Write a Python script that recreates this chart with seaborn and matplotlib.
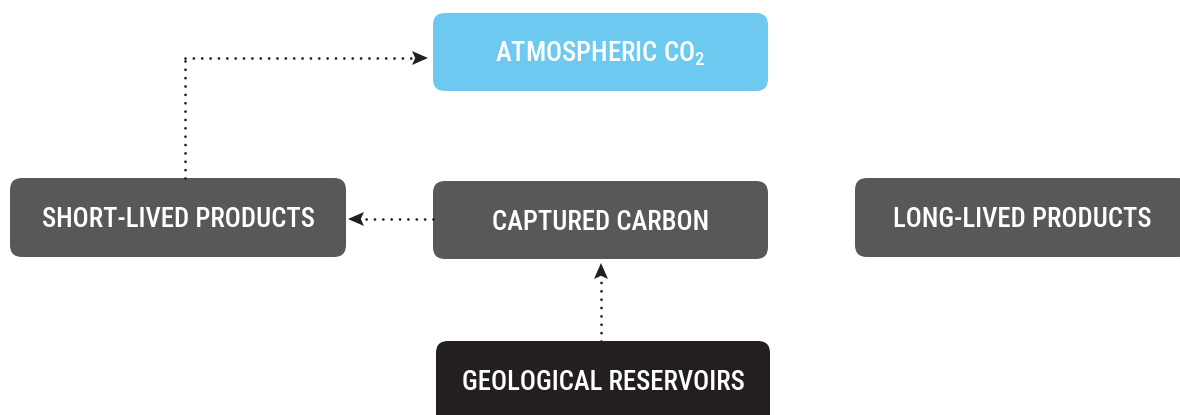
import numpy as np
import matplotlib
matplotlib.use("Agg")
import matplotlib.pyplot as plt
from matplotlib import font_manager
from matplotlib.patches import FancyBboxPatch, Polygon
import seaborn as sns

# boxes of the carbon flow diagram (pixel layout, y down)
labels = ["ATMOSPHERIC CO$_2$", "SHORT-LIVED PRODUCTS", "CAPTURED CARBON",
          "LONG-LIVED PRODUCTS", "GEOLOGICAL RESERVOIRS"]
box_x = [433, 10, 433, 855, 436]
box_y = [13, 178, 181, 178, 341]
box_w = [335, 336, 335, 335, 334]
box_h = [78, 79, 78, 79, 90]
box_colors = ["#6dc9ef", "#58585a", "#58585a", "#58585a", "#231f20"]

# arrows: (from box, to box)
links = [(1, 0), (2, 1), (4, 2)]

sns.set_theme(style="white")

# condensed face if there is one, else fall back
names = {f.name for f in font_manager.fontManager.ttflist}
fam = "DejaVu Sans"
for cand in ["Roboto Condensed", "Barlow Condensed", "Fira Sans Extra Condensed",
             "Archivo Narrow", "Liberation Sans Narrow"]:
    if cand in names:
        fam = cand
        break
plt.rcParams["font.family"] = [fam, "DejaVu Sans"]
plt.rcParams["mathtext.fontset"] = "custom"
plt.rcParams["mathtext.rm"] = fam + ":medium"
plt.rcParams["mathtext.it"] = fam + ":medium"

fig = plt.figure(figsize=(11.8, 4.15), dpi=100)
ax = fig.add_axes([0, 0, 1, 1])
ax.set_xlim(0, 1180)
ax.set_ylim(415, 0)
ax.axis("off")

for lab, x, y, w, h, c in zip(labels, box_x, box_y, box_w, box_h, box_colors):
    ax.add_patch(FancyBboxPatch((x + 12, y + 12), w - 24, h - 24,
                                boxstyle="round,pad=12", fc=c, ec="none"))
    ax.text(x + w / 2, y + 41, lab, color="white", fontsize=19.3,
            fontweight="medium", ha="center", va="center")


def dotted(xs, ys):
    ax.plot(xs, ys, color="#231f20", lw=2.0, dashes=(0.01, 3.0),
            dash_capstyle="round")


def head(tip, direction, length=16, width=14):
    tip = np.array(tip, float)
    d = np.array(direction, float)
    n = np.array([-d[1], d[0]])
    base = tip - d * length
    notch = tip - d * length * 0.8
    pts = [tip, base + n * width / 2, notch, base - n * width / 2]
    ax.add_patch(Polygon(pts, closed=True, fc="#231f20", ec="none"))


# short-lived -> atmosphere (elbow)
s, t = links[0]
x0 = box_x[s] + 175
y_mid = box_y[t] + box_h[t] / 2 + 6
tip_x = box_x[t] - 5
dotted([x0, x0], [box_y[s], y_mid])
dotted([x0, tip_x - 14], [y_mid, y_mid])
head((tip_x, y_mid), (1, 0))

# captured -> short-lived
s, t = links[1]
yy = box_y[s] + 38
tip_x = box_x[t] + box_w[t] + 2
dotted([box_x[s], tip_x + 14], [yy, yy])
head((tip_x, yy), (-1, 0))

# geological -> captured
s, t = links[2]
xx = box_x[s] + 165
tip_y = box_y[t] + box_h[t] + 4
dotted([xx, xx], [box_y[s], tip_y + 14])
head((xx, tip_y), (0, -1))

fig.savefig("out.png", dpi=100)
